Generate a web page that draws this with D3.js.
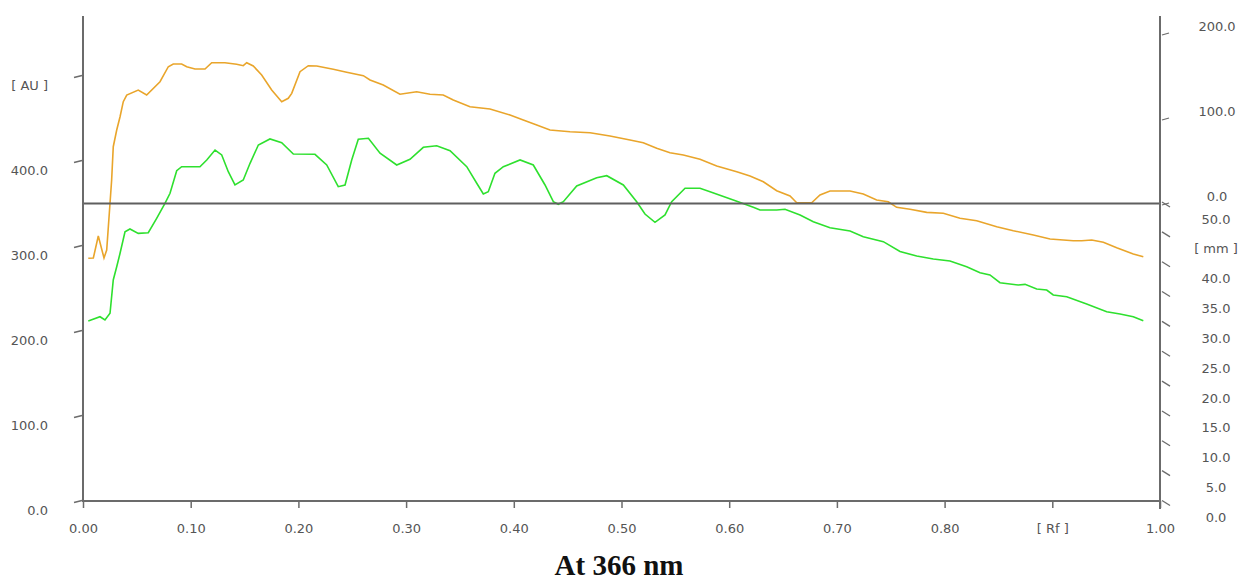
<!DOCTYPE html>
<html>
<head>
<meta charset="utf-8">
<script src="https://cdn.jsdelivr.net/npm/d3@7"></script>
<style>
  html, body { margin: 0; padding: 0; background: #fff; }
  svg { display: block; }
</style>
</head>
<body>
<svg id="chart" width="1239" height="580"></svg>
<script>
// ---- Data ----
const orangeRf = [0.0049,0.0096,0.0142,0.0195,0.0220,0.0251,0.0266,0.0281,0.0313,0.0344,0.0374,0.0406,0.0513,0.0591,0.0715,0.0792,0.0838,0.0916,0.0963,0.1040,0.1133,0.1195,0.1318,0.1427,0.1488,0.1520,0.1581,0.1659,0.1752,0.1845,0.1906,0.1938,0.2015,0.2092,0.2170,0.2324,0.2448,0.2603,0.2665,0.2788,0.2943,0.3098,0.3222,0.3345,0.3438,0.3593,0.3779,0.3965,0.4088,0.4213,0.4336,0.4522,0.4708,0.4893,0.5079,0.5202,0.5327,0.5450,0.5574,0.5729,0.5884,0.6070,0.6193,0.6317,0.6441,0.6565,0.6627,0.6658,0.6766,0.6843,0.6936,0.7122,0.7245,0.7369,0.7477,0.7555,0.7679,0.7834,0.7988,0.8143,0.8298,0.8484,0.8638,0.8824,0.8979,0.9195,0.9273,0.9366,0.9474,0.9598,0.9752,0.9845];
const orangeAU = [285.5,285.9,311.8,285.9,295.3,350.6,377.6,416.8,436.5,452.1,469.8,477.6,483.5,477.6,493.3,510.9,514.1,514.1,510.9,508.2,508.2,515.6,515.6,513.8,512.1,515.6,511.8,501.2,483.5,469.8,473.8,479.6,505.1,512.1,511.8,507.9,504.4,500.4,495.3,489.4,478.5,481.5,478.5,477.6,471.8,463.9,461.2,454.1,448.2,442.4,436.5,434.5,433.3,429.4,424.7,421.5,414.9,409.8,407.1,402.0,394.1,387.4,382.4,375.6,365.1,358.8,350.9,350.9,350.9,360.0,364.7,364.7,361.2,354.1,352.1,345.5,343.2,339.6,338.5,332.6,329.8,322.7,318.0,312.9,308.2,306.2,306.2,307.1,304.4,298.0,290.6,287.4];

const greenRf = [0.0049,0.0158,0.0204,0.0251,0.0281,0.0313,0.0344,0.0390,0.0436,0.0513,0.0606,0.0684,0.0761,0.0808,0.0870,0.0916,0.1086,0.1149,0.1226,0.1288,0.1349,0.1411,0.1488,0.1551,0.1628,0.1736,0.1845,0.1953,0.2154,0.2263,0.2370,0.2433,0.2495,0.2556,0.2650,0.2758,0.2913,0.3036,0.3160,0.3284,0.3408,0.3563,0.3656,0.3717,0.3763,0.3825,0.3903,0.4058,0.4181,0.4290,0.4367,0.4413,0.4460,0.4584,0.4770,0.4863,0.5017,0.5141,0.5218,0.5311,0.5404,0.5466,0.5590,0.5729,0.5822,0.6038,0.6224,0.6286,0.6441,0.6518,0.6658,0.6781,0.6936,0.7122,0.7245,0.7431,0.7586,0.7741,0.7895,0.8050,0.8205,0.8329,0.8421,0.8514,0.8684,0.8747,0.8855,0.8948,0.9009,0.9134,0.9319,0.9505,0.9629,0.9752,0.9845];
const greenAU = [211.8,216.8,212.9,220.8,260.0,275.6,291.4,316.8,320.0,314.9,315.6,332.6,350.2,362.0,388.6,393.3,393.3,401.2,412.9,407.1,387.4,371.8,377.6,397.3,418.8,425.9,421.5,408.2,407.9,395.3,369.8,371.8,401.2,425.5,426.7,409.1,395.3,402.0,416.1,418.0,412.1,393.3,373.8,361.2,363.9,385.5,393.3,401.2,395.3,371.8,352.1,349.1,352.1,370.6,380.4,382.7,371.8,352.1,337.6,327.9,336.5,352.1,367.9,367.9,363.9,354.1,345.5,342.4,342.4,343.2,336.5,328.6,321.5,317.6,310.9,305.1,293.5,288.2,284.7,282.4,275.6,268.6,265.9,256.8,254.1,254.9,249.4,248.2,242.4,240.4,231.8,222.7,220.0,216.8,212.1];

const baselineAU = 350;

const xTicks = [0,0.1,0.2,0.3,0.4,0.5,0.6,0.7,0.8,0.9,1.0];
const xTickLabels = ["0.00","0.10","0.20","0.30","0.40","0.50","0.60","0.70","0.80","[ Rf ]","1.00"];
const leftTicks = [0,100,200,300,400,500];
const leftTickLabels = ["0.0","100.0","200.0","300.0","400.0","[ AU ]"];
const upperRightTicks = [0,100,200];
const upperRightLabels = ["0.0","100.0","200.0"];
const lowerRightTicks = [0,5,10,15,20,25,30,35,40,45,50];
const lowerRightLabels = ["0.0","5.0","10.0","15.0","20.0","25.0","30.0","35.0","40.0","[ mm ]","50.0"];
const titleText = "At 366 nm";

// ---- Layout ----
const svg = d3.select("#chart");
const X0 = 83, X1 = 1160, Y0 = 501, YTOP = 16;
const x = d3.scaleLinear().domain([0, 1]).range([X0, X1]);
const yL = d3.scaleLinear().domain([0, 500]).range([Y0, 76]);
const yRU = d3.scaleLinear().domain([0, 200]).range([yL(baselineAU), yL(baselineAU) - 170]);
const yRL = d3.scaleLinear().domain([0, 50]).range([502, yL(baselineAU)]);

const axisColor = "#6b6b6b";
const textColor = "#555555";
const font = "'DejaVu Sans', Verdana, sans-serif";

// Curves
const line = d3.line().x(d => x(d[0])).y(d => yL(d[1])).curve(d3.curveLinear);
const orange = orangeRf.map((r, i) => [r, orangeAU[i]]);
const green = greenRf.map((r, i) => [r, greenAU[i]]);

svg.append("path").datum(green).attr("d", line)
  .attr("fill", "none").attr("stroke", "#2ee02e").attr("stroke-width", 1.6);
svg.append("path").datum(orange).attr("d", line)
  .attr("fill", "none").attr("stroke", "#e9a52b").attr("stroke-width", 1.6);

// Baseline
svg.append("line")
  .attr("x1", X0).attr("x2", X1)
  .attr("y1", yL(baselineAU)).attr("y2", yL(baselineAU))
  .attr("stroke", "#5f5f5f").attr("stroke-width", 2);

// Bottom axis
const gx = svg.append("g").attr("transform", `translate(0,${Y0})`)
  .call(d3.axisBottom(x).tickValues(xTicks).tickSize(7).tickPadding(16)
    .tickFormat((d, i) => xTickLabels[i]));
gx.select(".domain").remove();
gx.selectAll(".tick line").attr("stroke", axisColor).attr("stroke-width", 1.5);
gx.selectAll(".tick text").attr("fill", textColor).style("font-family", font).style("font-size", "13px");

// Left axis
const gl = svg.append("g").attr("transform", `translate(${X0},0)`)
  .call(d3.axisLeft(yL).tickValues(leftTicks).tickSize(9).tickPadding(26)
    .tickFormat((d, i) => leftTickLabels[i]));
gl.select(".domain").remove();
gl.selectAll(".tick line").attr("stroke", axisColor).attr("stroke-width", 1.3)
  .attr("x1", -1).attr("x2", -9).attr("y1", -1).attr("y2", 1);
gl.selectAll(".tick text").attr("fill", textColor).attr("dy", "1.05em")
  .style("font-family", font).style("font-size", "13px");

// Upper right axis
const gru = svg.append("g").attr("transform", `translate(${X1},0)`)
  .call(d3.axisRight(yRU).tickValues(upperRightTicks).tickSize(9).tickPadding(0)
    .tickFormat((d, i) => upperRightLabels[i]));
gru.select(".domain").remove();
gru.selectAll(".tick line").attr("stroke", axisColor).attr("stroke-width", 1.3)
  .attr("x1", 2).attr("x2", 9).attr("y1", 1).attr("y2", -1);
gru.selectAll(".tick text").attr("fill", textColor).attr("x", 57).attr("dy", "-0.2em")
  .attr("text-anchor", "middle")
  .style("font-family", font).style("font-size", "13px");

// Lower right axis (mm)
const grl = svg.append("g").attr("transform", `translate(${X1},0)`)
  .call(d3.axisRight(yRL).tickValues(lowerRightTicks).tickSize(9).tickPadding(0)
    .tickFormat((d, i) => lowerRightLabels[i]));
grl.select(".domain").remove();
grl.selectAll(".tick line").attr("stroke", axisColor).attr("stroke-width", 1.3)
  .attr("x1", 2).attr("x2", 10).attr("y1", -2).attr("y2", 3);
grl.selectAll(".tick text").attr("fill", textColor).attr("x", 56).attr("dy", "1.5em")
  .attr("text-anchor", "middle")
  .style("font-family", font).style("font-size", "13px");

// Axis frame lines
svg.append("line").attr("x1", X0).attr("x2", X0).attr("y1", YTOP).attr("y2", Y0 + 1)
  .attr("stroke", axisColor).attr("stroke-width", 2);
svg.append("line").attr("x1", X0).attr("x2", X1).attr("y1", Y0).attr("y2", Y0)
  .attr("stroke", axisColor).attr("stroke-width", 2);
svg.append("line").attr("x1", X1).attr("x2", X1).attr("y1", YTOP).attr("y2", Y0 + 8)
  .attr("stroke", axisColor).attr("stroke-width", 2);

// Title
svg.append("text")
  .attr("x", 619).attr("y", 575)
  .attr("text-anchor", "middle")
  .attr("fill", "#111")
  .style("font-family", "'Liberation Serif', 'Times New Roman', serif")
  .style("font-weight", "bold")
  .style("font-size", "29px")
  .text(titleText);
</script>
</body>
</html>
